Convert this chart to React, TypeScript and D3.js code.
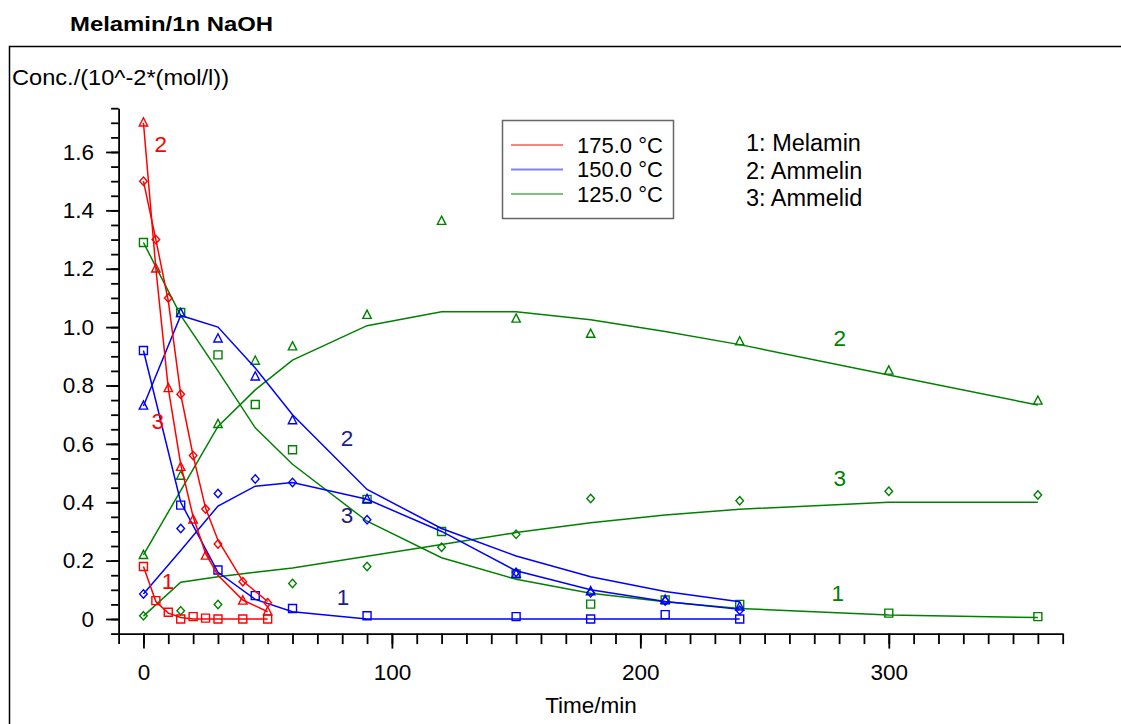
import React, { useEffect, useRef } from 'react';
import * as d3 from 'd3';

// axis ticks
const xMajorTicks = [0, 100, 200, 300];
const yMajorTicks = [0, 0.2, 0.4, 0.6, 0.8, 1.0, 1.2, 1.4, 1.6];

// 175 °C (red)
const redFitTimes = [0, 5, 10, 15, 20, 25, 30, 40, 50];
const redMelaminFit = [0.18, 0.06, 0.02, 0.005, 0, 0, 0, 0, 0];
const redAmmelinFit = [1.7, 1.2, 0.79, 0.53, 0.35, 0.225, 0.15, 0.065, 0.025];
const redAmmelidFit = [1.5, 1.3, 1.09, 0.77, 0.56, 0.38, 0.27, 0.13, 0.06];
const redMelaminObs = [[0, 0.18], [5, 0.063], [10, 0.023], [15, 0], [20, 0.008], [25, 0.003], [30, 0], [40, 0], [50, 0]];
const redAmmelinObs = [[0, 1.7], [5, 1.2], [10, 0.79], [15, 0.52], [20, 0.34], [25, 0.216], [40, 0.062], [50, 0.025]];
const redAmmelidObs = [[0, 1.5], [5, 1.3], [10, 1.1], [15, 0.77], [20, 0.56], [25, 0.377], [30, 0.257], [40, 0.128], [50, 0.056]];

// 150 °C (blue)
const blueFitTimes = [0, 15, 30, 45, 60, 90, 120, 150, 180, 210, 240];
const blueMelaminFit = [0.92, 0.4, 0.16, 0.067, 0.025, 0, 0, 0, 0, 0, 0];
const blueAmmelinFit = [0.73, 1.04, 1.0, 0.86, 0.7, 0.444, 0.31, 0.216, 0.145, 0.094, 0.059];
const blueAmmelidFit = [0.086, 0.235, 0.387, 0.455, 0.468, 0.41, 0.3, 0.165, 0.1, 0.06, 0.033];
const blueMelaminObs = [[0, 0.92], [15, 0.39], [30, 0.168], [45, 0.08], [60, 0.036], [90, 0.011], [150, 0.008], [180, 0], [210, 0.015], [240, 0]];
const blueAmmelinObs = [[0, 0.73], [15, 1.047], [30, 0.96], [45, 0.83], [60, 0.68], [90, 0.41], [150, 0.154], [180, 0.094], [210, 0.065], [240, 0.042]];
const blueAmmelidObs = [[0, 0.086], [15, 0.31], [30, 0.43], [45, 0.48], [60, 0.468], [90, 0.34], [150, 0.16], [180, 0.09], [210, 0.062], [240, 0.03]];

// 125 °C (green)
const greenFitTimes = [0, 15, 30, 45, 60, 90, 120, 150, 180, 210, 240, 300, 360];
const greenMelaminFit = [1.29, 1.04, 0.85, 0.655, 0.53, 0.335, 0.21, 0.136, 0.088, 0.059, 0.036, 0.014, 0.005];
const greenAmmelinFit = [0.22, 0.44, 0.66, 0.785, 0.887, 1.005, 1.053, 1.053, 1.025, 0.985, 0.94, 0.836, 0.733];
const greenAmmelidFit = [0.01, 0.126, 0.145, 0.16, 0.175, 0.215, 0.255, 0.296, 0.33, 0.356, 0.376, 0.4, 0.4];
const greenMelaminObs = [[0, 1.29], [15, 1.05], [30, 0.905], [45, 0.735], [60, 0.58], [90, 0.41], [120, 0.3], [150, 0.154], [180, 0.051], [210, 0.065], [240, 0.05], [300, 0.02], [360, 0.008]];
const greenAmmelinObs = [[0, 0.218], [15, 0.49], [30, 0.667], [45, 0.884], [60, 0.933], [90, 1.041], [120, 1.363], [150, 1.028], [180, 0.976], [240, 0.95], [300, 0.85], [360, 0.747]];
const greenAmmelidObs = [[0, 0.011], [15, 0.028], [30, 0.05], [60, 0.122], [90, 0.18], [120, 0.246], [150, 0.29], [180, 0.413], [240, 0.405], [300, 0.438], [360, 0.425]];

const legendItems = ['175.0 °C', '150.0 °C', '125.0 °C'];
const compoundNames = ['1: Melamin', '2: Ammelin', '3: Ammelid'];

// curve number annotations [time, conc, label]
const redLabels = [[7, 1.624, '2'], [5.8, 0.678, '3'], [9.9, 0.13, '1']];
const blueLabels = [[81.9, 0.62, '2'], [81.9, 0.356, '3'], [80.3, 0.075, '1']];
const greenLabels = [[280.3, 0.96, '2'], [280.3, 0.48, '3'], [279.5, 0.086, '1']];

const FONT = "Arial, 'Liberation Sans', sans-serif";

export default function App() {
  const svgRef = useRef<SVGSVGElement>(null);

  useEffect(() => {
    const width = 1121;
    const height = 724;
    const svg = d3.select(svgRef.current);
    svg.selectAll('*').remove();

    const x = d3.scaleLinear().domain([-10, 370]).range([118.6, 1062.7]);
    const y = d3.scaleLinear().domain([-0.05, 1.75]).range([633.6, 108.2]);

    // frame
    svg.append('rect')
      .attr('x', 9.5).attr('y', 46.5)
      .attr('width', width + 20).attr('height', height)
      .attr('fill', 'none').attr('stroke', '#000').attr('stroke-width', 1.5);

    svg.append('text')
      .attr('x', 70).attr('y', 31)
      .attr('font-family', FONT).attr('font-size', 21).attr('font-weight', 'bold')
      .attr('textLength', 203).attr('lengthAdjust', 'spacingAndGlyphs')
      .text('Melamin/1n NaOH');

    svg.append('text')
      .attr('x', 12).attr('y', 85)
      .attr('font-family', FONT).attr('font-size', 22)
      .attr('textLength', 217).attr('lengthAdjust', 'spacingAndGlyphs')
      .text('Conc./(10^-2*(mol/l))');

    // axes
    const axisY = y(-0.05);
    const axisX = x(-10);
    const styleAxis = (g: any) => {
      g.selectAll('path').attr('stroke', '#000').attr('stroke-width', 1.8);
      g.selectAll('line').attr('stroke', '#000').attr('stroke-width', 1.8);
      g.selectAll('text').attr('font-family', FONT).attr('font-size', 22.5).attr('fill', '#000');
    };

    svg.append('g')
      .attr('transform', `translate(0,${axisY})`)
      .call(d3.axisBottom(x).tickValues(d3.range(-1, 38).map(i => i * 10)).tickSize(10.5).tickSizeOuter(0).tickFormat(() => ''))
      .call(styleAxis);
    svg.append('g')
      .attr('transform', `translate(0,${axisY})`)
      .call(d3.axisBottom(x).tickValues(xMajorTicks).tickSize(15).tickPadding(15).tickFormat(d3.format('d')))
      .call(styleAxis)
      .call((g: any) => g.select('.domain').remove());

    svg.append('g')
      .attr('transform', `translate(${axisX},0)`)
      .call(d3.axisLeft(y).tickValues(d3.range(-1, 36).map(i => i * 0.05)).tickSize(7.5).tickSizeOuter(0).tickFormat(() => ''))
      .call(styleAxis);
    svg.append('g')
      .attr('transform', `translate(${axisX},0)`)
      .call(d3.axisLeft(y).tickValues(yMajorTicks).tickSize(12.5).tickPadding(12)
        .tickFormat((d: any) => (d === 0 ? '0' : d.toFixed(1))))
      .call(styleAxis)
      .call((g: any) => g.select('.domain').remove());

    svg.append('text')
      .attr('x', 591).attr('y', 713)
      .attr('text-anchor', 'middle')
      .attr('font-family', FONT).attr('font-size', 22.5)
      .text('Time/min');

    const drawGroup = (
      color: string,
      labelColor: string,
      times: number[],
      fits: number[][],
      obs: number[][][],
      labels: any[],
    ) => {
      const g = svg.append('g');
      const path = d3.line<[number, number]>().x(d => x(d[0])).y(d => y(d[1]));
      fits.forEach(vals => {
        g.append('path')
          .datum(times.map((t, i) => [t, vals[i]] as [number, number]))
          .attr('fill', 'none').attr('stroke', color).attr('stroke-width', 1.5)
          .attr('d', path);
      });
      const shapes = ['square', 'triangle', 'diamond'];
      obs.forEach((pts, k) => {
        pts.forEach(([t, v]) => {
          const cx = x(t), cy = y(v);
          let d = '';
          if (shapes[k] === 'square') d = `M${cx - 4},${cy - 4}h8v8h-8Z`;
          else if (shapes[k] === 'triangle') d = `M${cx},${cy - 5}L${cx + 4.2},${cy + 3.2}L${cx - 4.2},${cy + 3.2}Z`;
          else d = `M${cx},${cy - 4.2}L${cx + 3.8},${cy}L${cx},${cy + 4.2}L${cx - 3.8},${cy}Z`;
          g.append('path').attr('d', d)
            .attr('fill', 'none').attr('stroke', color).attr('stroke-width', 1.4);
        });
      });
      labels.forEach(([t, v, s]) => {
        g.append('text')
          .attr('x', x(t)).attr('y', y(v))
          .attr('text-anchor', 'middle').attr('dominant-baseline', 'central')
          .attr('font-family', FONT).attr('font-size', 22.5).attr('fill', labelColor)
          .text(s);
      });
    };

    drawGroup('#008000', '#008000', greenFitTimes,
      [greenMelaminFit, greenAmmelinFit, greenAmmelidFit],
      [greenMelaminObs, greenAmmelinObs, greenAmmelidObs], greenLabels);
    drawGroup('#0000ff', '#1c1c8c', blueFitTimes,
      [blueMelaminFit, blueAmmelinFit, blueAmmelidFit],
      [blueMelaminObs, blueAmmelinObs, blueAmmelidObs], blueLabels);
    drawGroup('#ff0000', '#ff0000', redFitTimes,
      [redMelaminFit, redAmmelinFit, redAmmelidFit],
      [redMelaminObs, redAmmelinObs, redAmmelidObs], redLabels);

    // legend
    const legend = svg.append('g');
    legend.append('rect')
      .attr('x', 502.5).attr('y', 120.5).attr('width', 171).attr('height', 98)
      .attr('fill', '#fff').attr('stroke', '#666').attr('stroke-width', 1.5);
    const legendColors = ['#ff0000', '#8080ff', '#008000'];
    const legendWidths = [1, 2, 1];
    legendItems.forEach((s, i) => {
      const ly = 145 + i * 24.5;
      legend.append('line')
        .attr('x1', 511).attr('x2', 563).attr('y1', ly).attr('y2', ly)
        .attr('stroke', legendColors[i]).attr('stroke-width', legendWidths[i]);
      legend.append('text')
        .attr('x', 577).attr('y', ly)
        .attr('dominant-baseline', 'central')
        .attr('font-family', FONT).attr('font-size', 22)
        .text(s);
    });
    compoundNames.forEach((s, i) => {
      svg.append('text')
        .attr('x', 746).attr('y', 143 + i * 27.5)
        .attr('dominant-baseline', 'central')
        .attr('font-family', FONT).attr('font-size', 23.5)
        .text(s);
    });
  }, []);

  return (
    <svg
      ref={svgRef}
      width={1121}
      height={724}
      style={{ position: 'absolute', left: 0, top: 0, display: 'block', background: '#fff' }}
    />
  );
}
